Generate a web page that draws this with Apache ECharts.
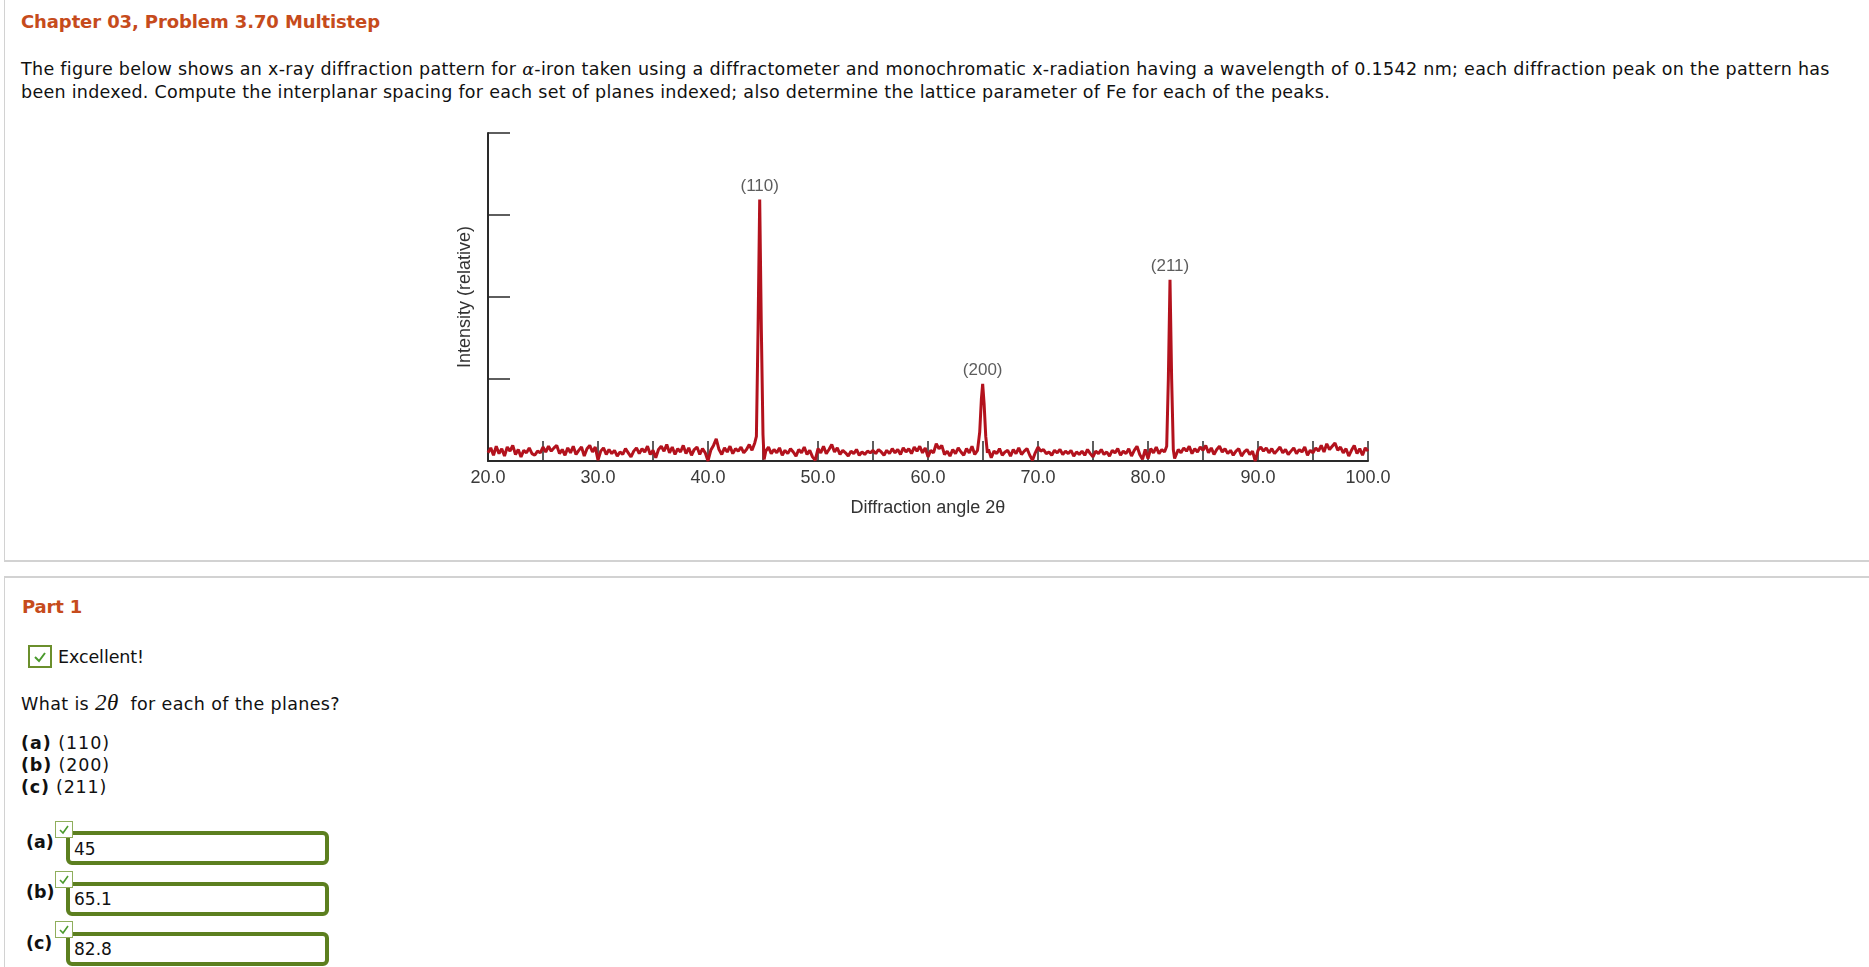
<!DOCTYPE html>
<html>
<head>
<meta charset="utf-8">
<script src="https://cdn.jsdelivr.net/npm/echarts@6/dist/echarts.min.js"></script>
<style>
html,body{margin:0;padding:0;background:#fff;}
body{width:1869px;height:967px;overflow:hidden;position:relative;font-family:"DejaVu Sans",Verdana,sans-serif;color:#111;}
.t{position:absolute;white-space:nowrap;line-height:24px;height:24px;}
.title{color:#c64b1c;font-weight:bold;font-size:18px;}
.body{font-size:17.5px;}
.panel1{position:absolute;left:4px;top:-2px;width:1900px;height:562px;border-left:1px solid #d2d2d2;border-bottom:2px solid #d2d2d2;}
.panel2{position:absolute;left:4px;top:576px;width:1900px;height:500px;border-left:1px solid #d2d2d2;border-top:2px solid #d2d2d2;}
.cb{position:absolute;box-sizing:border-box;border:2px solid #6b8f2c;background:#fff;}
.cbs{position:absolute;box-sizing:border-box;border:1.5px solid #8fae5c;background:#fff;z-index:3;}
.inp{position:absolute;box-sizing:border-box;border:4px solid #5c7f1f;border-radius:6px;background:#fff;left:66px;width:263px;height:34px;}
.val{position:absolute;left:74px;font-family:"DejaVu Sans",Verdana,sans-serif;font-size:17px;line-height:24px;z-index:2;}
.lab{position:absolute;left:26px;font-family:"DejaVu Sans",Verdana,sans-serif;font-size:17.5px;font-weight:bold;line-height:24px;}
#chart{position:absolute;left:380px;top:100px;width:1080px;height:450px;}
</style>
</head>
<body>
<div class="panel1"></div>
<div class="panel2"></div>

<div class="t title" style="left:21px;top:10px" data-w="359">Chapter 03, Problem 3.70 Multistep</div>
<div class="t body" style="left:21px;top:57px" data-w="1808">The figure below shows an x-ray diffraction pattern for <i style="font-family:'DejaVu Serif',serif">α</i>-iron taken using a diffractometer and monochromatic x-radiation having a wavelength of 0.1542 nm; each diffraction peak on the pattern has</div>
<div class="t body" style="left:21px;top:80px" data-w="1309">been indexed. Compute the interplanar spacing for each set of planes indexed; also determine the lattice parameter of Fe for each of the peaks.</div>

<div id="chart"></div>

<div class="t title" style="left:22px;top:595px" data-w="60">Part 1</div>
<div class="cb" style="left:28px;top:645px;width:24px;height:23px">
<svg width="20" height="19" style="position:absolute;left:0;top:0"><polyline points="5,10 9,14 15,6" fill="none" stroke="#4a9a2c" stroke-width="2"/></svg>
</div>
<div class="t body" style="left:58px;top:645px" data-w="86">Excellent!</div>
<div class="t body" style="left:21px;top:691px" data-w="319">What is <span style="font-family:'Liberation Serif',serif;font-style:italic;font-size:23px">2θ</span>&nbsp; for each of the planes?</div>
<div class="t body" style="left:21px;top:731px" data-w="89"><b>(a)</b> (110)</div>
<div class="t body" style="left:21px;top:753px" data-w="89"><b>(b)</b> (200)</div>
<div class="t body" style="left:21px;top:775px" data-w="86"><b>(c)</b> (211)</div>

<div class="lab" style="top:830px">(a)</div>
<div class="cbs" style="left:55px;top:821px;width:18px;height:17px"><svg width="16" height="15" style="position:absolute;left:0;top:0"><polyline points="4,8 7,11 12,4" fill="none" stroke="#4a9a2c" stroke-width="1.6"/></svg></div>
<div class="inp" style="top:831px"></div>
<div class="val" style="top:837px">45</div>

<div class="lab" style="top:880px">(b)</div>
<div class="cbs" style="left:55px;top:871px;width:18px;height:17px"><svg width="16" height="15" style="position:absolute;left:0;top:0"><polyline points="4,8 7,11 12,4" fill="none" stroke="#4a9a2c" stroke-width="1.6"/></svg></div>
<div class="inp" style="top:882px"></div>
<div class="val" style="top:887px">65.1</div>

<div class="lab" style="top:931px">(c)</div>
<div class="cbs" style="left:55px;top:921px;width:18px;height:17px"><svg width="16" height="15" style="position:absolute;left:0;top:0"><polyline points="4,8 7,11 12,4" fill="none" stroke="#4a9a2c" stroke-width="1.6"/></svg></div>
<div class="inp" style="top:932px"></div>
<div class="val" style="top:937px">82.8</div>

<script>
// ---- data (2θ in degrees, relative intensity) ----
const xTickLabels = ["20.0","30.0","40.0","50.0","60.0","70.0","80.0","90.0","100.0"];
const peakLabels = ["(110)","(200)","(211)"];
const peakAngles = [44.7, 64.97, 82.0];
const peakTops   = [3.19, 0.94, 2.21];

const scanA = [[20.0,.10],[20.25,.16],[20.5,.07],[20.75,.18],[21.0,.09],[21.25,.15],[21.5,.06],[21.75,.17],[22.0,.12],[22.25,.19],[22.5,.08],[22.75,.14],[23.0,.05],[23.25,.13],[23.5,.10],[23.75,.16],[24.0,.09],[24.25,.07],[24.5,.12],[24.75,.10],[25.0,.17],[25.25,.11],[25.5,.18],[25.75,.12],[26.0,.16],[26.25,.19],[26.5,.09],[26.75,.14],[27.0,.07],[27.25,.16],[27.5,.10],[27.75,.18],[28.0,.08],[28.25,.13],[28.5,.17],[28.75,.06],[29.0,.15],[29.25,.19],[29.5,.11],[29.75,.17],[30.0,.01],[30.25,.12],[30.5,.16],[30.75,.08],[31.0,.14],[31.25,.09],[31.5,.13],[31.75,.06],[32.0,.11],[32.25,.08],[32.5,.15],[32.75,.10],[33.0,.05],[33.25,.12],[33.5,.16],[33.75,.09],[34.0,.15],[34.25,.11],[34.5,.18],[34.75,.08],[35.0,.13],[35.25,.04],[35.5,.14],[35.75,.18],[36.0,.12],[36.25,.20],[36.5,.10],[36.75,.17],[37.0,.08],[37.25,.15],[37.5,.11],[37.75,.19],[38.0,.09],[38.25,.16],[38.5,.07],[38.75,.14],[39.0,.17],[39.25,.08],[39.5,.15],[39.75,.10],[40.0,.00],[40.25,.13],[40.5,.19],[40.75,.27],[41.0,.14],[41.25,.08],[41.5,.16],[41.75,.11],[42.0,.18],[42.25,.09],[42.5,.15],[42.75,.12],[43.0,.17],[43.25,.10],[43.5,.14],[43.75,.20],[44.0,.13],[44.25,.22]];
const peak110 = [[44.4,.3],[44.55,1.6],[44.7,3.19],[44.85,1.6],[45.0,.32],[45.1,.02]];
const scanB = [[45.25,.12],[45.5,.17],[45.75,.09],[46.0,.14],[46.25,.10],[46.5,.16],[46.75,.07],[47.0,.13],[47.25,.09],[47.5,.15],[47.75,.11],[48.0,.06],[48.25,.14],[48.5,.10],[48.75,.17],[49.0,.08],[49.25,.13],[49.5,.05],[49.75,.01],[50.0,.15],[50.25,.10],[50.5,.18],[50.75,.09],[51.0,.14],[51.25,.20],[51.5,.11],[51.75,.16],[52.0,.08],[52.25,.13],[52.5,.10],[52.75,.06],[53.0,.12],[53.25,.09],[53.5,.14],[53.75,.07],[54.0,.11],[54.25,.08],[54.5,.12],[54.75,.10],[55.0,.13],[55.25,.09],[55.5,.14],[55.75,.11],[56.0,.07],[56.25,.13],[56.5,.09],[56.75,.15],[57.0,.10],[57.25,.14],[57.5,.08],[57.75,.16],[58.0,.11],[58.25,.15],[58.5,.09],[58.75,.17],[59.0,.12],[59.25,.18],[59.5,.10],[59.75,.16],[60.0,.05],[60.25,.13],[60.5,.10],[60.75,.21],[61.0,.15],[61.25,.19],[61.5,.08],[61.75,.12],[62.0,.06],[62.25,.14],[62.5,.09],[62.75,.16],[63.0,.11],[63.25,.07],[63.5,.15],[63.75,.10],[64.0,.18],[64.25,.08],[64.5,.13]];
const peak200 = [[64.7,.35],[64.85,.75],[64.97,.94],[65.1,.7],[65.25,.3],[65.4,.1]];
const scanC = [[65.5,.14],[65.75,.04],[66.0,.12],[66.25,.09],[66.5,.15],[66.75,.07],[67.0,.11],[67.25,.13],[67.5,.06],[67.75,.14],[68.0,.09],[68.25,.16],[68.5,.08],[68.75,.12],[69.0,.15],[69.25,.07],[69.5,.01],[69.75,.10],[70.0,.17],[70.25,.12],[70.5,.14],[70.75,.09],[71.0,.11],[71.25,.07],[71.5,.13],[71.75,.10],[72.0,.14],[72.25,.08],[72.5,.12],[72.75,.09],[73.0,.13],[73.25,.06],[73.5,.11],[73.75,.08],[74.0,.12],[74.25,.07],[74.5,.14],[74.75,.09],[75.0,.05],[75.25,.12],[75.5,.09],[75.75,.14],[76.0,.08],[76.25,.11],[76.5,.06],[76.75,.13],[77.0,.10],[77.25,.15],[77.5,.07],[77.75,.12],[78.0,.09],[78.25,.15],[78.5,.06],[78.75,.13],[79.0,.18],[79.25,.08],[79.5,.02],[79.75,.14],[80.0,.03],[80.25,.15],[80.5,.10],[80.75,.17],[81.0,.09],[81.25,.14],[81.5,.11]];
const peak211 = [[81.7,.18],[81.85,1.0],[82.0,2.21],[82.15,1.0],[82.3,.14],[82.42,.03]];
const scanD = [[82.55,.05],[82.75,.14],[83.0,.10],[83.25,.16],[83.5,.12],[83.75,.18],[84.0,.09],[84.25,.15],[84.5,.11],[84.75,.17],[85.0,.13],[85.25,.19],[85.5,.10],[85.75,.16],[86.0,.08],[86.25,.14],[86.5,.18],[86.75,.11],[87.0,.15],[87.25,.09],[87.5,.13],[87.75,.07],[88.0,.12],[88.25,.15],[88.5,.06],[88.75,.11],[89.0,.14],[89.25,.08],[89.5,.12],[89.75,.00],[90.0,.13],[90.25,.17],[90.5,.12],[90.75,.16],[91.0,.10],[91.25,.15],[91.5,.09],[91.75,.13],[92.0,.17],[92.25,.10],[92.5,.14],[92.75,.08],[93.0,.12],[93.25,.16],[93.5,.09],[93.75,.14],[94.0,.11],[94.25,.17],[94.5,.07],[94.75,.13],[95.0,.10],[95.25,.16],[95.5,.12],[95.75,.19],[96.0,.11],[96.25,.21],[96.5,.14],[96.75,.18],[97.0,.22],[97.25,.13],[97.5,.17],[97.75,.10],[98.0,.15],[98.25,.06],[98.5,.13],[98.75,.19],[99.0,.09],[99.25,.15],[99.5,.07],[99.75,.16],[100.0,.12]];

// ---- fit page text widths ----
document.querySelectorAll('[data-w]').forEach(el => {
  const target = +el.dataset.w;
  const w = el.getBoundingClientRect().width;
  const n = el.textContent.length;
  el.style.letterSpacing = ((target - w) / n) + 'px';
});

// ---- chart ----
const scan = [].concat(scanA, peak110, scanB, peak200, scanC, peak211, scanD);
const peakPoints = peakAngles.map((a, i) => ({ name: peakLabels[i], value: [a, peakTops[i]] }));
const FONT = "'Liberation Sans', Arial, sans-serif";
const AX = '#2a2a2a';
const chart = echarts.init(document.getElementById('chart'), null, { renderer: 'canvas' });
chart.setOption({
  animation: false,
  backgroundColor: 'transparent',
  grid: { left: 108, top: 33, width: 880, height: 328, outerBoundsMode: 'none', containLabel: false },
  xAxis: {
    type: 'value', min: 20, max: 100, interval: 5,
    name: 'Diffraction angle 2θ', nameLocation: 'middle', nameGap: 38,
    nameTextStyle: { fontFamily: FONT, fontSize: 18, color: '#333' },
    axisLine: { lineStyle: { color: AX, width: 2 } },
    axisTick: { inside: true, length: 20, lineStyle: { color: AX, width: 1.5 } },
    axisLabel: {
      margin: 8, fontFamily: FONT, fontSize: 18, color: '#3a3a3a',
      formatter: v => { const i = xTickLabels.indexOf(v.toFixed(1)); return (v % 10 === 0 && i >= 0) ? xTickLabels[i] : ''; }
    },
    splitLine: { show: false }
  },
  yAxis: {
    type: 'value', min: 0, max: 4, interval: 1,
    name: 'Intensity (relative)', nameLocation: 'middle', nameGap: 14, nameRotate: 90,
    nameTextStyle: { fontFamily: FONT, fontSize: 18, color: '#333' },
    axisLine: { show: true, lineStyle: { color: AX, width: 2 } },
    axisTick: { show: true, inside: true, length: 22, lineStyle: { color: AX, width: 1.5 } },
    axisLabel: { show: false },
    splitLine: { show: false }
  },
  series: [
    {
      type: 'line', data: scan, showSymbol: false, symbol: 'none',
      lineStyle: { color: '#b3121d', width: 3 }, z: 3
    },
    {
      type: 'scatter', data: peakPoints, symbolSize: 0.1,
      itemStyle: { color: 'transparent' },
      label: { show: true, position: 'top', distance: 5, formatter: '{b}', fontFamily: FONT, fontSize: 17, color: '#333' },
      z: 4
    }
  ]
});
</script>
</body>
</html>
